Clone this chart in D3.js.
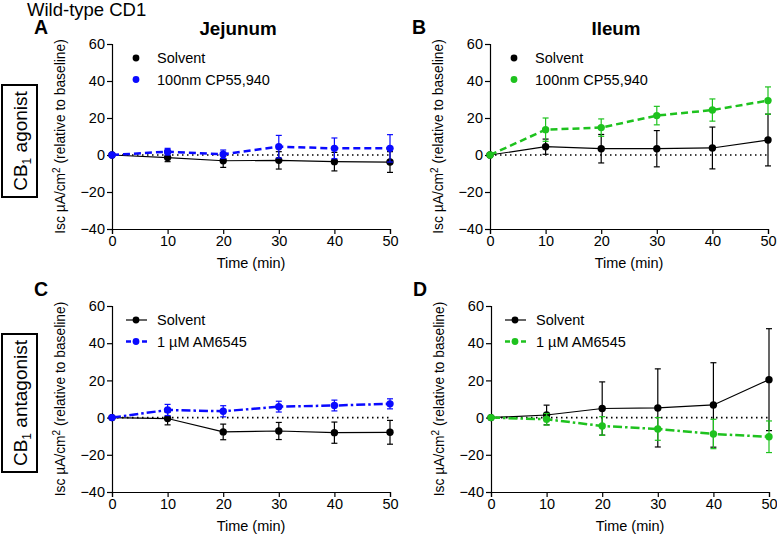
<!DOCTYPE html>
<html><head><meta charset="utf-8">
<script src="https://cdn.jsdelivr.net/npm/d3@7"></script>
<style>body{margin:0;background:#fff}svg{font-family:"Liberation Sans",Arial,sans-serif}</style>
</head><body><svg id="c" width="777" height="535"></svg>
<script>
const time = [0, 10, 20, 30, 40, 50];
const xTicks = [0, 10, 20, 30, 40, 50];
const yTicks = [-40, -20, 0, 20, 40, 60];

const aSolvent = [0, -1.4, -3.1, -2.9, -3.6, -3.8];
const aSolventErr = [0, 2.2, 3.6, 4.7, 5.0, 5.6];
const aCP = [0, 1.8, 0.4, 4.5, 3.6, 3.6];
const aCPErr = [0, 1.8, 2.3, 6.1, 5.6, 7.4];

const bSolvent = [0, 4.5, 3.4, 3.4, 3.8, 8.1];
const bSolventErr = [0, 4.1, 7.7, 9.8, 11.3, 14.0];
const bCP = [0, 13.7, 14.8, 21.3, 24.3, 29.4];
const bCPErr = [0, 6.3, 4.7, 5.0, 6.0, 7.4];

const cSolvent = [0, -0.5, -7.7, -7.2, -8.1, -7.9];
const cSolventErr = [0, 3.4, 4.2, 4.6, 5.7, 6.4];
const cAM = [0, 4.1, 3.4, 5.9, 6.5, 7.4];
const cAMErr = [0, 3.0, 3.0, 2.9, 2.9, 2.7];

const dSolvent = [0, 1.4, 4.9, 5.2, 6.8, 20.4];
const dSolventErr = [0, 5.3, 14.3, 21.0, 22.7, 27.4];
const dAM = [0, -0.9, -4.5, -6.1, -8.8, -10.3];
const dAMErr = [0, 3.1, 5.0, 6.1, 7.9, 8.5];

const BLUE = "#0a0aff", GREEN = "#1ec21e";
const DASH = "7,4", DASHDOT = "9,3,2.5,3";

const panels = [
  {letter:"A", title:"Jejunum", x0:112, x1:390, yTop:44, yBot:229, lineLegend:false,
   series:[{name:"Solvent", v:aSolvent, e:aSolventErr, color:"#000", dash:null, w:1.2},
           {name:"100nm CP55,940", v:aCP, e:aCPErr, color:BLUE, dash:DASH, w:2.5}]},
  {letter:"B", title:"Ileum", x0:490, x1:768, yTop:44, yBot:229, lineLegend:false,
   series:[{name:"Solvent", v:bSolvent, e:bSolventErr, color:"#000", dash:null, w:1.2},
           {name:"100nm CP55,940", v:bCP, e:bCPErr, color:GREEN, dash:DASH, w:2.5}]},
  {letter:"C", title:null, x0:112, x1:390, yTop:306, yBot:492, lineLegend:true,
   series:[{name:"Solvent", v:cSolvent, e:cSolventErr, color:"#000", dash:null, w:1.2},
           {name:"1 \u00b5M AM6545", v:cAM, e:cAMErr, color:BLUE, dash:DASHDOT, w:2.5}]},
  {letter:"D", title:null, x0:491, x1:769, yTop:306, yBot:492, lineLegend:true,
   series:[{name:"Solvent", v:dSolvent, e:dSolventErr, color:"#000", dash:null, w:1.2},
           {name:"1 \u00b5M AM6545", v:dAM, e:dAMErr, color:GREEN, dash:DASHDOT, w:2.5}]}
];

const svg = d3.select("#c");

svg.append("text").attr("x", 27).attr("y", 15.5).attr("font-size", 18.5).text("Wild-type CD1");

// row labels
function rowLabel(x0, y0, x1, y1, word) {
  svg.append("rect").attr("x", x0).attr("y", y0).attr("width", x1 - x0).attr("height", y1 - y0)
    .attr("fill", "none").attr("stroke", "#000").attr("stroke-width", 2);
  const t = svg.append("text").attr("transform", `translate(${(x0 + x1) / 2 + 7},${(y0 + y1) / 2}) rotate(-90)`)
    .attr("text-anchor", "middle").attr("font-size", 19);
  t.append("tspan").text("CB");
  t.append("tspan").attr("font-size", 12).attr("dy", 4).text("1");
  t.append("tspan").attr("dy", -4).text(" " + word);
}
rowLabel(2, 85, 37, 197, "agonist");
rowLabel(2, 334, 37, 472, "antagonist");

panels.forEach(p => {
  const x = d3.scaleLinear().domain([0, 50]).range([p.x0, p.x1]);
  const y = d3.scaleLinear().domain([-40, 60]).range([p.yBot, p.yTop]);
  const g = svg.append("g");

  const ax = g.append("g").attr("transform", `translate(0,${p.yBot})`)
    .call(d3.axisBottom(x).tickValues(xTicks).tickSize(5).tickPadding(2));
  const ay = g.append("g").attr("transform", `translate(${p.x0},0)`)
    .call(d3.axisLeft(y).tickValues(yTicks).tickSize(5).tickPadding(2));
  [ax, ay].forEach(a => {
    a.select(".domain").attr("stroke", "#000").attr("stroke-width", 1.2);
    a.selectAll(".tick line").attr("stroke", "#000").attr("stroke-width", 1.2);
    a.selectAll(".tick text").attr("font-size", 14.5).attr("fill", "#000")
      .attr("font-family", "'Liberation Sans', Arial, sans-serif");
  });

  g.append("text").attr("x", (p.x0 + p.x1) / 2).attr("y", p.yBot + 39).attr("text-anchor", "middle")
    .attr("font-size", 14.5).text("Time (min)");

  const lab = g.append("text").attr("transform", `translate(${p.x0 - 47},${(p.yTop + p.yBot) / 2}) rotate(-90)`)
    .attr("text-anchor", "middle").attr("font-size", 13.8);
  lab.append("tspan").text("Isc \u00b5A/cm");
  lab.append("tspan").attr("font-size", 10).attr("dy", -5).text("2");
  lab.append("tspan").attr("dy", 5).text(" (relative to baseline)");

  g.append("text").attr("x", p.x0 - 78).attr("y", p.yTop - 10).attr("font-size", 19.5)
    .attr("font-weight", "bold").text(p.letter);
  if (p.title) g.append("text").attr("x", (p.x0 + p.x1) / 2 - 13).attr("y", p.yTop - 9)
    .attr("text-anchor", "middle").attr("font-size", 18.8).attr("font-weight", "bold").text(p.title);

  // zero dotted line
  g.append("line").attr("x1", x(0)).attr("x2", x(50)).attr("y1", y(0)).attr("y2", y(0))
    .attr("stroke", "#000").attr("stroke-width", 1.6).attr("stroke-dasharray", "1.5,3.5");

  const line = d3.line().x((d, i) => x(time[i])).y(d => y(d));
  p.series.forEach(s => {
    const sg = g.append("g");
    time.forEach((t, i) => {
      if (!s.e[i]) return;
      const cx = x(t), lo = y(s.v[i] - s.e[i]), hi = y(s.v[i] + s.e[i]);
      sg.append("line").attr("x1", cx).attr("x2", cx).attr("y1", lo).attr("y2", hi)
        .attr("stroke", s.color).attr("stroke-width", 1.2);
      [lo, hi].forEach(yy => sg.append("line").attr("x1", cx - 3).attr("x2", cx + 3).attr("y1", yy).attr("y2", yy)
        .attr("stroke", s.color).attr("stroke-width", 1.2));
    });
    sg.append("path").attr("d", line(s.v)).attr("fill", "none").attr("stroke", s.color)
      .attr("stroke-width", s.w).attr("stroke-dasharray", s.dash);
    sg.selectAll("circle").data(s.v).join("circle")
      .attr("cx", (d, i) => x(time[i])).attr("cy", d => y(d)).attr("r", 3.7).attr("fill", s.color);
  });

  // legend
  p.series.forEach((s, k) => {
    const ly = p.yTop + 14 + k * 21.5;
    const lx = p.x0 + 24;
    if (p.lineLegend) {
      g.append("line").attr("x1", lx - 10).attr("x2", lx + 11).attr("y1", ly).attr("y2", ly)
        .attr("stroke", s.color).attr("stroke-width", s.w).attr("stroke-dasharray", s.dash ? "5,3" : null);
    }
    g.append("circle").attr("cx", lx).attr("cy", ly).attr("r", 3.4).attr("fill", s.color);
    g.append("text").attr("x", lx + 21).attr("y", ly + 5).attr("font-size", 14.5).text(s.name);
  });
});
</script></body></html>
